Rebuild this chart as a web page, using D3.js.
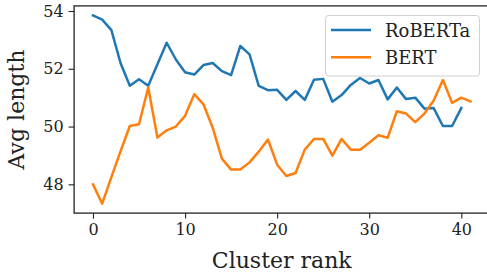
<!DOCTYPE html>
<html>
<head>
<meta charset="utf-8">
<script src="https://cdn.jsdelivr.net/npm/d3@7"></script>
<style>
  html, body { margin: 0; padding: 0; background: #fff; }
  svg { display: block; font-family: "DejaVu Serif", serif; }
  svg text { font-family: "DejaVu Serif", serif; }
</style>
</head>
<body>
<svg id="chart" width="487" height="275"></svg>
<script>
const roberta = [53.85, 53.70, 53.34, 52.19, 51.41, 51.64, 51.41, 52.16, 52.90, 52.32,
                 51.88, 51.80, 52.13, 52.20, 51.92, 51.78, 52.79, 52.50, 51.41, 51.26,
                 51.27, 50.92, 51.23, 50.92, 51.62, 51.65, 50.86, 51.09, 51.44, 51.68,
                 51.49, 51.61, 50.94, 51.35, 50.95, 51.00, 50.62, 50.64, 50.02, 50.02,
                 50.64];
const bert = [48.00, 47.33, 48.25, 49.15, 50.02, 50.08, 51.35, 49.62, 49.87, 50.00,
              50.37, 51.12, 50.77, 49.96, 48.89, 48.51, 48.51, 48.76, 49.13, 49.55,
              48.68, 48.29, 48.39, 49.20, 49.57, 49.57, 48.99, 49.57, 49.20, 49.20,
              49.44, 49.70, 49.61, 50.53, 50.45, 50.15, 50.45, 50.90, 51.61, 50.82,
              51.00, 50.87];
const seriesNames = ["RoBERTa", "BERT"];
const seriesColors = ["#1f77b4", "#ff7f0e"];
const xTicks = [0, 10, 20, 30, 40];
const yTicks = [48, 50, 52, 54];
const xLabel = "Cluster rank";
const yLabel = "Avg length";

const svg = d3.select("#chart");
const L = 74.1, R = 489.4, T = 5.9, B = 213.1;

const x = d3.scaleLinear().domain([-2.05, 43.05]).range([L, R]);
const y = d3.scaleLinear().domain([47.004, 54.176]).range([B, T]);

const series = [roberta, bert];
const line = d3.line().x((d, i) => x(i)).y(d => y(d));

svg.append("g").selectAll("path").data(series).join("path")
  .attr("d", d => line(d))
  .attr("fill", "none")
  .attr("stroke", (d, i) => seriesColors[i])
  .attr("stroke-width", 2.5)
  .attr("stroke-linejoin", "round")
  .attr("stroke-linecap", "square");

// axes
const xAxis = d3.axisBottom(x).tickValues(xTicks).tickSize(5.5).tickPadding(5).tickFormat(d3.format("d"));
const yAxis = d3.axisLeft(y).tickValues(yTicks).tickSize(5.5).tickPadding(5).tickFormat(d3.format("d"));

const gx = svg.append("g").attr("transform", `translate(0,${B})`).call(xAxis);
const gy = svg.append("g").attr("transform", `translate(${L},0)`).call(yAxis);
[gx, gy].forEach(g => {
  g.attr("font-family", "DejaVu Serif").attr("font-size", 16);
  g.select(".domain").remove();
  g.selectAll(".tick line").attr("stroke", "#222").attr("stroke-width", 1.1);
  g.selectAll(".tick text").attr("fill", "#222")
    .attr("font-family", "DejaVu Serif").attr("font-size", 16);
});

// spines
svg.append("rect").attr("x", L).attr("y", T).attr("width", R - L).attr("height", B - T)
  .attr("fill", "none").attr("stroke", "#222").attr("stroke-width", 1.3);

// labels
svg.append("text").attr("x", (L + R) / 2).attr("y", 268)
  .attr("text-anchor", "middle").attr("font-size", 22).attr("fill", "#222").text(xLabel);
svg.append("text").attr("transform", `translate(24,${(T + B) / 2}) rotate(-90)`)
  .attr("text-anchor", "middle").attr("font-size", 22).attr("fill", "#222").text(yLabel);

// legend
const lg = svg.append("g");
lg.append("rect").attr("x", 325.5).attr("y", 15.5).attr("width", 154).attr("height", 60.5)
  .attr("rx", 3).attr("fill", "#fff").attr("fill-opacity", 0.8)
  .attr("stroke", "#d0d0d0").attr("stroke-width", 1);
seriesNames.forEach((n, i) => {
  const yy = 30 + i * 27.3;
  lg.append("line").attr("x1", 331).attr("x2", 371).attr("y1", yy).attr("y2", yy)
    .attr("stroke", seriesColors[i]).attr("stroke-width", 2.5);
  lg.append("text").attr("x", 385).attr("y", yy + 6.5).attr("font-size", 18)
    .attr("fill", "#222").text(n);
});
</script>
</body>
</html>
